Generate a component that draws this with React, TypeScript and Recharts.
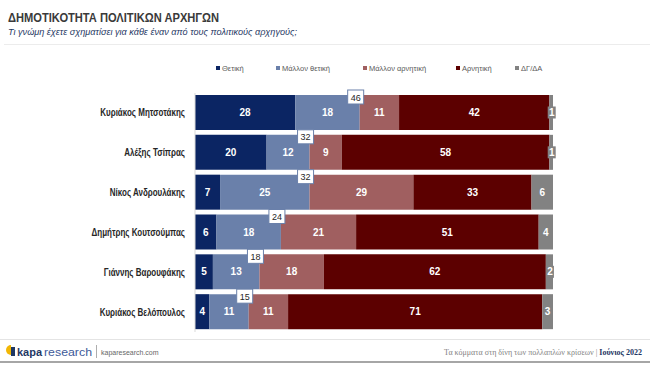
import React from "react";
import { BarChart, Bar, XAxis, YAxis, Legend, LabelList } from "recharts";

const leaders = [
  "Κυριάκος Μητσοτάκης",
  "Αλέξης Τσίπρας",
  "Νίκος Ανδρουλάκης",
  "Δημήτρης Κουτσούμπας",
  "Γιάννης Βαρουφάκης",
  "Κυριάκος Βελόπουλος",
];
const positive = [28, 20, 7, 6, 5, 4];
const ratherPositive = [18, 12, 25, 18, 13, 11];
const ratherNegative = [11, 9, 29, 21, 18, 11];
const negative = [42, 58, 33, 51, 62, 71];
const dkna = [1, 1, 6, 4, 2, 3];

const seriesNames = ["Θετική", "Μάλλον θετική", "Μάλλον αρνητική", "Αρνητική", "ΔΓ/ΔΑ"];

const data = leaders.map((name, i) => ({
  name,
  pos: positive[i],
  rpos: ratherPositive[i],
  rneg: ratherNegative[i],
  neg: negative[i],
  dk: dkna[i],
}));

const COLORS = ["#0b2563", "#6a80aa", "#a05f60", "#5c0000", "#828282"];
const LEGEND_X = [216, 276, 363, 456, 515];
const FONT = "'Liberation Sans', Arial, sans-serif";

const LeaderTick = ({ x, y, payload }: any) => (
  <g transform={`translate(${x - 2},${y + 3.5}) scale(0.8,1)`}>
    <text textAnchor="end" fontSize={10} fontWeight="bold" fill="#262626" fontFamily={FONT}>
      {payload.value}
    </text>
  </g>
);

const SegLabel = ({ x, y, width, height, value }: any) => {
  const cx = x + width / 2;
  const cy = y + height / 2;
  return (
    <g>
      {width < 8 && (
        <rect x={cx - 3.5} y={cy - 6} width={8} height={12} fill={COLORS[4]} />
      )}
      <text
        x={cx + (width < 8 ? 0.5 : 0)}
        y={cy + 3.5}
        textAnchor="middle"
        fontSize={10}
        fontWeight="bold"
        fill="#ffffff"
        fontFamily={FONT}
      >
        {value}
      </text>
    </g>
  );
};

const SumBox = ({ x, y, width, index }: any) => {
  const total = positive[index] + ratherPositive[index];
  const cx = x + width - 4;
  return (
    <g>
      <rect x={cx - 8} y={y - 5} width={16} height={14} fill="#ffffff" stroke="#6a80aa" strokeWidth={1} />
      <text x={cx} y={y + 5.5} textAnchor="middle" fontSize={9} fill="#262626" fontFamily={FONT}>
        {total}
      </text>
    </g>
  );
};

const LegendContent = ({ payload }: any) => (
  <svg width={650} height={14} style={{ display: "block" }}>
    {(payload || []).map((p: any) => {
      const i = seriesNames.indexOf(p.value);
      return (
        <g key={p.value}>
          <rect x={LEGEND_X[i]} y={4} width={4} height={4} fill={COLORS[i]} />
          <text x={LEGEND_X[i] + 6} y={9} fontSize={7.5} fill="#595959" fontFamily={FONT}>
            {p.value}
          </text>
        </g>
      );
    })}
  </svg>
);

export default function App() {
  const keys = ["pos", "rpos", "rneg", "neg", "dk"];
  return (
    <div style={{ position: "fixed", left: 0, top: 0, width: 650, height: 365, background: "#fff", fontFamily: FONT }}>
      <svg width={650} height={365} style={{ position: "absolute", left: 0, top: 0 }}>
        <text x={8} y={22} fontSize={12} fontWeight="bold" fill="#3a3a3a" textLength={211} lengthAdjust="spacingAndGlyphs">
          ΔΗΜΟΤΙΚΟΤΗΤΑ ΠΟΛΙΤΙΚΩΝ ΑΡΧΗΓΩΝ
        </text>
        <text x={8} y={35} fontSize={9.5} fontStyle="italic" fill="#1f3864" textLength={289} lengthAdjust="spacingAndGlyphs">
          Τι γνώμη έχετε σχηματίσει για κάθε έναν από τους πολιτικούς αρχηγούς;
        </text>
        <line x1={4} x2={650} y1={44.5} y2={44.5} stroke="#ececec" strokeWidth={1} />
        <line x1={0} x2={650} y1={339.5} y2={339.5} stroke="#e4e4e4" strokeWidth={1} />
        <path d="M11 345 A5 5 0 0 0 11 355 Z" fill="#f2b705" />
        <rect x={11} y={347} width={4} height={9} fill="#1f3864" />
        <text x={17} y={356} fontSize={11} fontWeight="bold" fill="#1f3864">kapa</text>
        <text x={44} y={356} fontSize={11} fill="#3d5a99" textLength={48} lengthAdjust="spacingAndGlyphs">research</text>
        <line x1={96.5} x2={96.5} y1={345} y2={358} stroke="#999" strokeWidth={0.8} />
        <text x={101} y={355} fontSize={7} fill="#666">kaparesearch.com</text>
        <text x={642} y={355} textAnchor="end" fontSize={8} fill="#7f7f7f" fontFamily="'Liberation Serif', serif">
          Τα κόμματα στη δίνη των πολλαπλών κρίσεων |{" "}
          <tspan fill="#1f3864" fontWeight="bold">Ιούνιος 2022</tspan>
        </text>
        <line x1={0} x2={650} y1={362} y2={362} stroke="#a6a6a6" strokeWidth={2} />
      </svg>
      <div style={{ position: "absolute", left: 0, top: 0 }}>
        <BarChart
          width={650}
          height={365}
          data={data}
          layout="vertical"
          margin={{ top: 79, right: 97, bottom: 33, left: 0 }}
          barSize={35}
        >
          <XAxis type="number" domain={[0, 100]} hide />
          <YAxis
            type="category"
            dataKey="name"
            width={195}
            tickLine={false}
            axisLine={{ stroke: "#d9d9d9" }}
            tick={<LeaderTick />}
            interval={0}
          />
          <Legend
            verticalAlign="top"
            content={<LegendContent />}
            wrapperStyle={{ position: "absolute", top: 62, left: 0, width: 650 }}
          />
          {keys.map((k, i) => (
            <Bar key={k} dataKey={k} name={seriesNames[i]} stackId="a" fill={COLORS[i]} isAnimationActive={false}>
              <LabelList dataKey={k} content={<SegLabel />} />
              {k === "rpos" && <LabelList dataKey={k} content={<SumBox />} />}
            </Bar>
          ))}
        </BarChart>
      </div>
    </div>
  );
}
